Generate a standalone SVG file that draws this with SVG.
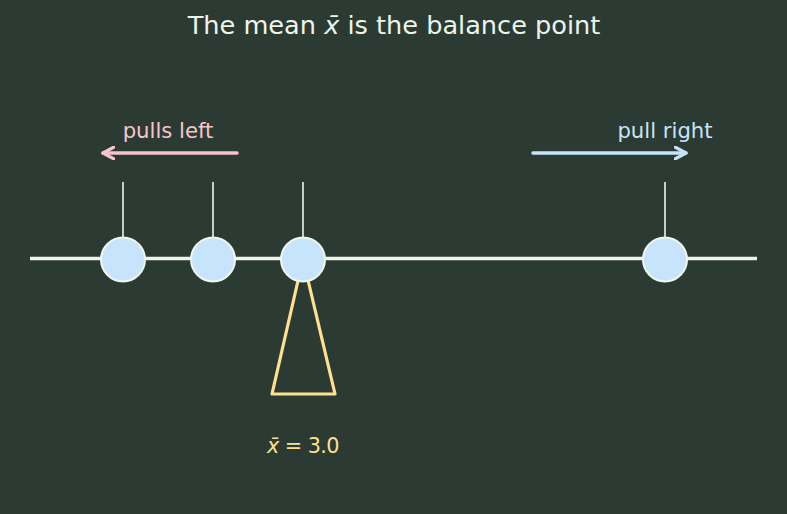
<svg xmlns="http://www.w3.org/2000/svg" width="787" height="514" viewBox="0 0 787 514">
<style>
text{font-family:"DejaVu Sans","Liberation Sans",sans-serif}
.hang{stroke:#eef4ea;stroke-width:1.6}
.mass{fill:#c6e4fb;stroke:#f2f6ee;stroke-width:2}
</style>
<defs>
<marker id="headL" viewBox="0 0 14 14" refX="12" refY="7" markerWidth="14" markerHeight="14" markerUnits="userSpaceOnUse" orient="auto">
<path d="M1,1 L12,7 L1,13" fill="none" stroke="#f7c3cd" stroke-width="3.2" stroke-linecap="round" stroke-linejoin="round"/>
</marker>
<marker id="headR" viewBox="0 0 14 14" refX="12" refY="7" markerWidth="14" markerHeight="14" markerUnits="userSpaceOnUse" orient="auto">
<path d="M1,1 L12,7 L1,13" fill="none" stroke="#c6e4f7" stroke-width="3.2" stroke-linecap="round" stroke-linejoin="round"/>
</marker>
</defs>
<rect width="787" height="514" fill="#2b3b34"/>
<text x="394" y="34" font-size="25.6" text-anchor="middle" fill="#eef4ea">The mean <tspan font-style="italic">x̄</tspan> is the balance point</text>
<g id="connectors">
<line x1="237" y1="153" x2="103" y2="153" stroke="#f7c3cd" stroke-width="3.5" stroke-linecap="round" marker-end="url(#headL)"/>
<line x1="533" y1="153" x2="686" y2="153" stroke="#c6e4f7" stroke-width="3.5" stroke-linecap="round" marker-end="url(#headR)"/>
<line class="hang" x1="123" y1="182" x2="123" y2="238"/>
<line class="hang" x1="213" y1="182" x2="213" y2="238"/>
<line class="hang" x1="303" y1="182" x2="303" y2="238"/>
<line class="hang" x1="665" y1="182" x2="665" y2="238"/>
</g>
<g id="labels">
<text x="168" y="138" font-size="21.2" text-anchor="middle" fill="#f7c3cd">pulls left</text>
<text x="665" y="138" font-size="21.2" text-anchor="middle" fill="#c6e4f7">pull right</text>
</g>
<g id="fulcrum">
<polygon points="303,259 335,394 272,394" fill="none" stroke="#ffe08f" stroke-width="3.2" stroke-linejoin="round"/>
<text x="303" y="453" font-size="20.8" text-anchor="middle" fill="#ffe08f" letter-spacing="-0.6"><tspan font-style="italic">x̄</tspan> = 3.0</text>
</g>
<g id="beam">
<line x1="30" y1="258.5" x2="757" y2="258.5" stroke="#eef4ea" stroke-width="3.5"/>
</g>
<g id="m1"><circle class="mass" cx="123" cy="259.5" r="22"/></g>
<g id="m2"><circle class="mass" cx="213" cy="259.5" r="22"/></g>
<g id="m3"><circle class="mass" cx="303" cy="259.5" r="22"/></g>
<g id="m4"><circle class="mass" cx="665" cy="259.5" r="22"/></g>
</svg>
